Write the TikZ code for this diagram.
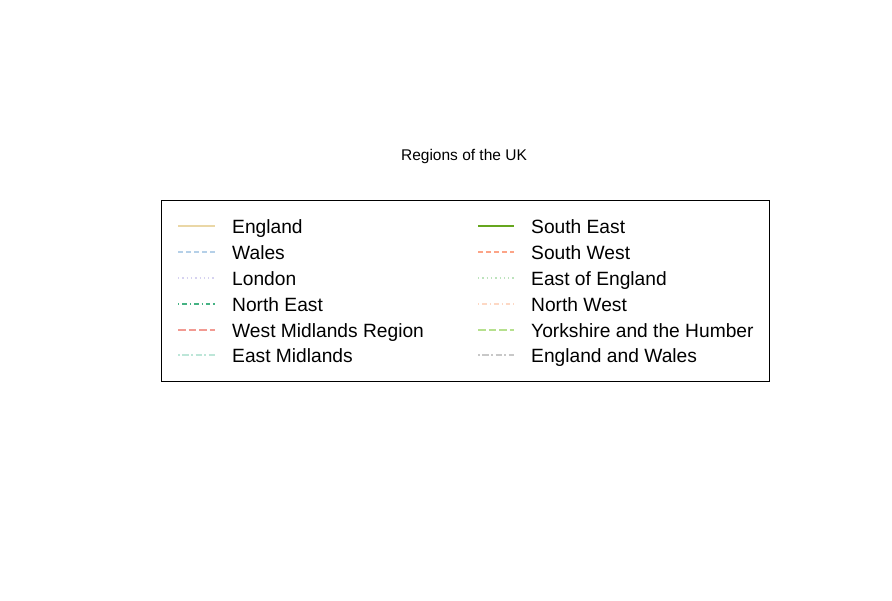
\documentclass[tikz,border=0pt]{standalone}
\usepackage{fontspec}
\setmainfont{Liberation Sans}
\definecolor{cEngland}{HTML}{EAD7A6}
\definecolor{cWales}{HTML}{B5D0E8}
\definecolor{cLondon}{HTML}{D6D2F0}
\definecolor{cNE}{HTML}{45B283}
\definecolor{cWM}{HTML}{F29A92}
\definecolor{cEM}{HTML}{BDE6D8}
\definecolor{cSE}{HTML}{66A61E}
\definecolor{cSW}{HTML}{FCA487}
\definecolor{cEoE}{HTML}{BCE3BC}
\definecolor{cNW}{HTML}{FDD8C4}
\definecolor{cYH}{HTML}{B6E08E}
\definecolor{cEW}{HTML}{C8C8C8}
\tikzset{
  leg/.style={line width=1.1pt},
  ltydashed/.style={dash pattern=on 4.5pt off 3.5pt},
  ltydotted/.style={dash pattern=on 1.3pt off 3pt},
  ltydotdash/.style={dash pattern=on 1.3pt off 3pt on 4.5pt off 3pt},
  ltylong/.style={dash pattern=on 7.5pt off 3pt},
  ltytwo/.style={dash pattern=on 2.2pt off 2.2pt on 6.5pt off 2.2pt},
  legtext/.style={anchor=base west, inner sep=0pt, font=\fontsize{19.2}{22}\selectfont},
}
\begin{document}
\begin{tikzpicture}[x=1pt,y=-1pt]
\useasboundingbox (0,0) rectangle (892,601);
\node[anchor=base, inner sep=0pt, font=\fontsize{15.5}{18}\selectfont] (title) at (464,160.5) {Regions of the UK};
\node[draw=black, line width=0.8pt, minimum width=608pt, minimum height=181pt, inner sep=0pt, anchor=north west] (box) at (161,200) {};
% left column
\coordinate (ae) at (178,226);  \coordinate (be) at (215,226);
\coordinate (aw) at (178,252);  \coordinate (bw) at (215,252);
\coordinate (al) at (178,278);  \coordinate (bl) at (215,278);
\coordinate (ane) at (178,304); \coordinate (bne) at (215,304);
\coordinate (awm) at (178,330); \coordinate (bwm) at (215,330);
\coordinate (aem) at (178,355); \coordinate (bem) at (215,355);
\draw[leg,draw=cEngland] (ae) -- (be);
\draw[leg,draw=cWales,ltydashed] (aw) -- (bw);
\draw[leg,draw=cLondon,ltydotted] (al) -- (bl);
\draw[leg,draw=cNE,ltydotdash] (ane) -- (bne);
\draw[leg,draw=cWM,ltylong] (awm) -- (bwm);
\draw[leg,draw=cEM,ltytwo] (aem) -- (bem);
\node[legtext] (te) at (232,234) {England};
\node[legtext] (tw) at (232,260) {Wales};
\node[legtext] (tl) at (232,286) {London};
\node[legtext] (tne) at (232,312) {North East};
\node[legtext] (twm) at (232,338) {West Midlands Region};
\node[legtext] (tem) at (232,363) {East Midlands};
% right column
\coordinate (ase) at (478,226);  \coordinate (bse) at (514,226);
\coordinate (asw) at (478,252);  \coordinate (bsw) at (514,252);
\coordinate (aeoe) at (478,278); \coordinate (beoe) at (514,278);
\coordinate (anw) at (478,304);  \coordinate (bnw) at (514,304);
\coordinate (ayh) at (478,330);  \coordinate (byh) at (514,330);
\coordinate (aew) at (478,355);  \coordinate (bew) at (514,355);
\draw[leg,draw=cSE] (ase) -- (bse);
\draw[leg,draw=cSW,ltydashed] (asw) -- (bsw);
\draw[leg,draw=cEoE,ltydotted] (aeoe) -- (beoe);
\draw[leg,draw=cNW,ltydotdash] (anw) -- (bnw);
\draw[leg,draw=cYH,ltylong] (ayh) -- (byh);
\draw[leg,draw=cEW,ltytwo] (aew) -- (bew);
\node[legtext] (tse) at (531,234) {South East};
\node[legtext] (tsw) at (531,260) {South West};
\node[legtext] (teoe) at (531,286) {East of England};
\node[legtext] (tnw) at (531,312) {North West};
\node[legtext] (tyh) at (531,338) {Yorkshire and the Humber};
\node[legtext] (tew) at (531,363) {England and Wales};
\end{tikzpicture}
\end{document}
